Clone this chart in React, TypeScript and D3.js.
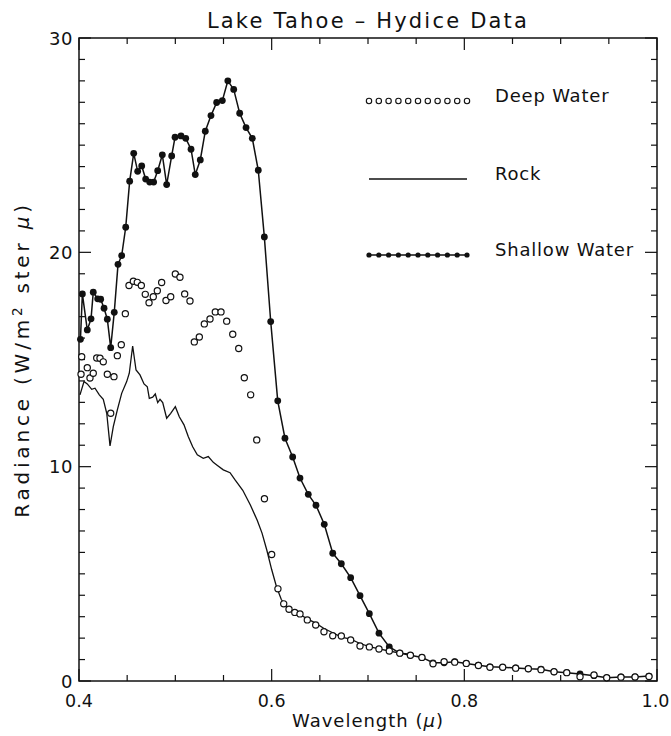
import React from "react";
import * as d3 from "d3";

const title = "Lake Tahoe \u2013 Hydice Data";
const xTickValues = [0.4, 0.6, 0.8, 1.0];
const yTickValues = [0, 10, 20, 30];
const legendLabels = ["Deep Water", "Rock", "Shallow Water"];

const shallowWl = [0.4015,0.4035,0.4086,0.4125,0.4148,0.4194,0.4225,0.426,0.4294,0.4329,0.4366,0.4405,0.4443,0.4485,0.4526,0.4568,0.4609,0.4651,0.4692,0.4734,0.4775,0.4817,0.4865,0.491,0.4962,0.4997,0.5059,0.5108,0.5163,0.5207,0.5259,0.5311,0.537,0.5429,0.5488,0.5545,0.5606,0.5668,0.5734,0.5799,0.5861,0.5924,0.599,0.6063,0.6138,0.6218,0.6294,0.638,0.646,0.6546,0.6634,0.6723,0.682,0.6917,0.7014,0.7114,0.7221,0.733,0.744,0.756,0.7675,0.779,0.79,0.802,0.8146,0.8266,0.8398,0.8533,0.8664,0.8796,0.8931,0.9063,0.9201,0.9346,0.9478,0.9626,0.9772,0.9917];
const shallowVal = [15.94,18.06,16.38,16.9,18.14,17.83,17.81,17.39,16.88,15.55,17.2,19.44,19.85,21.17,23.32,24.62,23.78,24.03,23.42,23.28,23.28,23.81,24.55,23.16,24.5,25.37,25.43,25.32,24.81,23.63,24.31,25.65,26.38,26.99,27.08,28.0,27.6,26.49,25.82,25.32,23.83,20.72,16.77,13.07,11.33,10.45,9.47,8.71,8.2,7.31,5.96,5.47,4.82,3.98,3.14,2.23,1.59,1.3,1.2,1.1,0.85,0.85,0.9,0.82,0.74,0.66,0.64,0.61,0.57,0.55,0.43,0.39,0.33,0.25,0.15,0.19,0.19,0.23];

const deepWl = [0.4028,0.4021,0.4086,0.4114,0.4148,0.4184,0.4218,0.4252,0.4294,0.4329,0.4363,0.4398,0.4439,0.4481,0.4519,0.4564,0.4605,0.4647,0.4688,0.4727,0.4771,0.4813,0.4858,0.4903,0.4952,0.5,0.5048,0.5097,0.5152,0.5197,0.5249,0.5301,0.536,0.5415,0.5474,0.5533,0.5596,0.5658,0.5716,0.5782,0.5845,0.5925,0.6,0.6065,0.6125,0.618,0.624,0.6294,0.637,0.6457,0.6543,0.6634,0.6723,0.682,0.6917,0.7014,0.7114,0.7221,0.733,0.744,0.756,0.7675,0.779,0.79,0.802,0.8146,0.8266,0.8398,0.8533,0.8664,0.8796,0.8931,0.9063,0.9201,0.9346,0.9478,0.9626,0.9772,0.9917];
const deepVal = [15.13,14.31,14.62,14.14,14.36,15.07,15.06,14.89,14.31,12.49,14.2,15.18,15.69,17.14,18.45,18.65,18.6,18.45,18.04,17.65,17.93,18.21,18.59,17.75,17.93,18.99,18.84,18.06,17.73,15.82,16.05,16.66,16.89,17.22,17.22,16.79,16.18,15.51,14.15,13.35,11.25,8.5,5.9,4.3,3.6,3.35,3.2,3.13,2.85,2.61,2.3,2.11,2.1,1.91,1.63,1.59,1.49,1.4,1.3,1.2,1.1,0.8,0.9,0.88,0.82,0.72,0.64,0.64,0.6,0.57,0.53,0.43,0.39,0.2,0.28,0.15,0.18,0.19,0.21];

const rockWl = [0.401,0.4052,0.4086,0.4132,0.4166,0.4211,0.4252,0.4288,0.4322,0.4356,0.4398,0.4443,0.4495,0.4522,0.4557,0.4592,0.4633,0.4675,0.4709,0.473,0.4765,0.4792,0.4817,0.4841,0.4869,0.491,0.4952,0.5,0.5041,0.509,0.5135,0.518,0.5228,0.529,0.5342,0.5394,0.543,0.5498,0.5568,0.562,0.57,0.578,0.585,0.59,0.595,0.6,0.605,0.61,0.615,0.62,0.6294,0.637,0.6457,0.6543,0.6634,0.6723,0.682,0.6917,0.7014,0.7114,0.7221,0.733,0.744];
const rockVal = [13.35,13.97,13.86,13.61,13.66,13.35,13.14,12.49,10.97,11.87,12.65,13.42,13.97,14.36,15.63,14.51,14.28,13.86,13.73,13.19,13.24,13.39,12.99,13.14,12.99,12.26,12.49,12.8,12.33,11.95,11.4,10.93,10.55,10.39,10.47,10.2,10.08,9.85,9.72,9.38,8.9,8.2,7.5,6.9,6.1,5.2,4.4,3.8,3.5,3.3,3.1,2.9,2.7,2.45,2.25,2.05,1.95,1.75,1.6,1.5,1.4,1.3,1.25];

const W = 671;
const H = 736;
const M = { left: 79, right: 657, top: 38, bottom: 681 };
const FONT = "'DejaVu Sans', sans-serif";

export default function App() {
  const x = d3.scaleLinear().domain([0.4, 1.0]).range([M.left, M.right]);
  const y = d3.scaleLinear().domain([0, 30]).range([M.bottom, M.top]);

  const shallow = shallowWl.map((w, i) => [w, shallowVal[i]] as [number, number]);
  const deep = deepWl.map((w, i) => [w, deepVal[i]] as [number, number]);
  const rock = rockWl.map((w, i) => [w, rockVal[i]] as [number, number]);

  const line = d3.line<[number, number]>().x((d) => x(d[0])).y((d) => y(d[1]));

  const xMinor = d3.range(0.4, 1.0001, 0.05).map((v) => +v.toFixed(2));
  const yMinor = d3.range(0, 31, 1);
  const isXMajor = (v: number) => xTickValues.some((t) => Math.abs(t - v) < 1e-6);
  const isYMajor = (v: number) => yTickValues.includes(v);

  const legendX0 = 369;
  const legendX1 = 467;
  const legendYs = [101, 179, 255];
  const legendPts = d3.range(11).map((i) => legendX0 + (i * (legendX1 - legendX0)) / 10);

  return (
    <svg width={W} height={H} style={{ position: "absolute", left: 0, top: 0, background: "#fff" }} fontFamily={FONT}>
      <rect x={0} y={0} width={W} height={H} fill="#fff" />
      <text x={(M.left + M.right) / 2} y={28} textAnchor="middle" fontSize={21} letterSpacing={2.2} fill="#111">
        {title}
      </text>

      {xMinor.map((v) => {
        const len = isXMajor(v) ? 12 : 6;
        return (
          <g key={"xt" + v} stroke="#111" strokeWidth={1.2}>
            <line x1={x(v)} x2={x(v)} y1={M.bottom} y2={M.bottom - len} />
            <line x1={x(v)} x2={x(v)} y1={M.top} y2={M.top + len} />
          </g>
        );
      })}
      {yMinor.map((v) => {
        const len = isYMajor(v) ? 12 : 6;
        return (
          <g key={"yt" + v} stroke="#111" strokeWidth={1.2}>
            <line x1={M.left} x2={M.left + len} y1={y(v)} y2={y(v)} />
            <line x1={M.right} x2={M.right - len} y1={y(v)} y2={y(v)} />
          </g>
        );
      })}
      <rect x={M.left} y={M.top} width={M.right - M.left} height={M.bottom - M.top} fill="none" stroke="#111" strokeWidth={1.5} />

      {xTickValues.map((v) => (
        <text key={"xl" + v} x={x(v) - (v === 1 ? 1.5 : 0)} y={707} textAnchor="middle" fontSize={17.5} fill="#111">
          {v.toFixed(1)}
        </text>
      ))}
      {yTickValues.map((v) => (
        <text key={"yl" + v} x={M.left - 6} y={y(v) + 6.5} textAnchor="end" fontSize={18} letterSpacing={0.6} fill="#111">
          {v}
        </text>
      ))}
      <text x={(M.left + M.right) / 2} y={727} textAnchor="middle" fontSize={18} letterSpacing={1} fill="#111">
        Wavelength (<tspan fontStyle="italic">{"\u03bc"}</tspan>)
      </text>
      <text transform={`translate(29,${(M.top + M.bottom) / 2}) rotate(-90)`} textAnchor="middle" fontSize={20} letterSpacing={3.8} fill="#111">
        Radiance (W/m<tspan dy={-7} fontSize={13.5}>2</tspan><tspan dy={7}> ster </tspan><tspan fontStyle="italic">{"\u03bc"}</tspan>)
      </text>

      <path d={line(rock) || ""} fill="none" stroke="#111" strokeWidth={1.3} />
      <path d={line(shallow) || ""} fill="none" stroke="#111" strokeWidth={1.5} />
      {shallow.map((d, i) => (
        <circle key={"s" + i} cx={x(d[0])} cy={y(d[1])} r={3.4} fill="#111" />
      ))}
      {deep.map((d, i) => (
        <circle key={"d" + i} cx={x(d[0])} cy={y(d[1])} r={3.1} fill="#fff" stroke="#111" strokeWidth={1.2} />
      ))}

      {legendPts.map((px, i) => (
        <circle key={"ld" + i} cx={px} cy={legendYs[0]} r={2.7} fill="#fff" stroke="#111" strokeWidth={1.1} />
      ))}
      <line x1={legendX0} x2={legendX1} y1={legendYs[1]} y2={legendYs[1]} stroke="#111" strokeWidth={1.3} />
      <line x1={legendX0} x2={legendX1} y1={legendYs[2]} y2={legendYs[2]} stroke="#111" strokeWidth={1.5} />
      {legendPts.map((px, i) => (
        <circle key={"ls" + i} cx={px} cy={legendYs[2]} r={2.6} fill="#111" />
      ))}
      {legendLabels.map((t, i) => (
        <text key={"lt" + i} x={495} y={legendYs[i] + 1} fontSize={18} letterSpacing={0.8} fill="#111">
          {t}
        </text>
      ))}
    </svg>
  );
}
